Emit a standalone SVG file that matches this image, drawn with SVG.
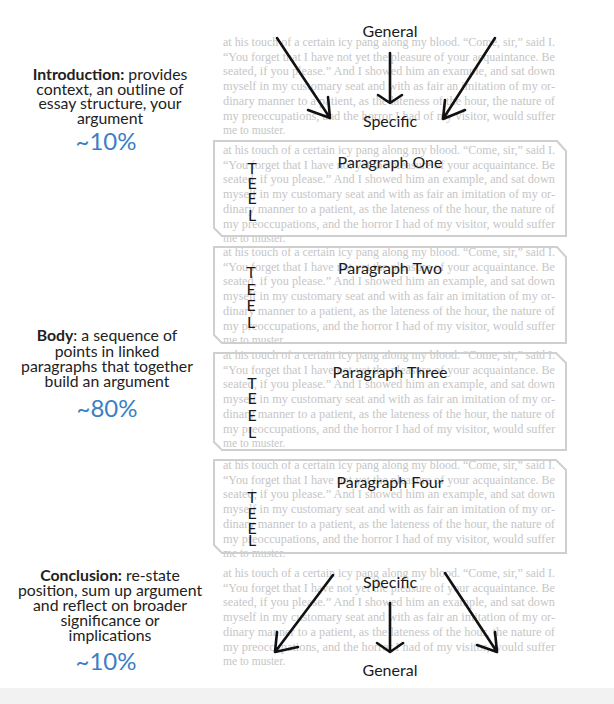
<svg xmlns="http://www.w3.org/2000/svg" xmlns:xlink="http://www.w3.org/1999/xlink" width="614" height="704" viewBox="0 0 614 704">
<style>
.bg{font-family:"Liberation Serif","Times New Roman",serif;font-size:11.5px;fill:#c6c6c6}
.lbl{font-family:Lato,"Open Sans",sans-serif;font-size:16px;fill:#1a1a1a;text-anchor:middle}
.teel{font-family:Lato,"Open Sans",sans-serif;font-size:16px;fill:#1a1a1a;text-anchor:middle}
.side{font-family:Lato,"Open Sans",sans-serif;font-size:15.8px;fill:#222;text-anchor:middle}
.pct{font-family:Lato,"Open Sans",sans-serif;font-size:24px;fill:#3b7fc4;text-anchor:middle}
.box{fill:none;stroke:#cfcfcf;stroke-width:2}
.arr{fill:none;stroke:#111;stroke-width:2.6;stroke-linecap:round;stroke-linejoin:round}
</style>
<defs>
<g id="para" class="bg">
<text x="223" y="0" textLength="332" lengthAdjust="spacingAndGlyphs">at his touch of a certain icy pang along my blood. “Come, sir,” said I.</text>
<text x="223" y="14.7" textLength="332" lengthAdjust="spacingAndGlyphs">“You forget that I have not yet the pleasure of your acquaintance. Be</text>
<text x="223" y="29.4" textLength="332" lengthAdjust="spacingAndGlyphs">seated, if you please.” And I showed him an example, and sat down</text>
<text x="223" y="44.1" textLength="332" lengthAdjust="spacingAndGlyphs">myself in my customary seat and with as fair an imitation of my or-</text>
<text x="223" y="58.8" textLength="332" lengthAdjust="spacingAndGlyphs">dinary manner to a patient, as the lateness of the hour, the nature of</text>
<text x="223" y="73.5" textLength="332" lengthAdjust="spacingAndGlyphs">my preoccupations, and the horror I had of my visitor, would suffer</text>
<text x="223" y="88.2">me to muster.</text>
</g>
</defs>
<rect x="0" y="0" width="614" height="704" fill="#ffffff"/>
<rect x="0" y="688" width="614" height="16" fill="#f2f2f2"/>

<g id="intro">
<use xlink:href="#para" y="46"/>
<text class="lbl" x="390" y="37">General</text>
<text class="lbl" x="390" y="127">Specific</text>
<text class="side" x="110" y="80"><tspan font-weight="bold">Introduction:</tspan> provides</text>
<text class="side" x="110" y="94.5">context, an outline of</text>
<text class="side" x="110" y="109">essay structure, your</text>
<text class="side" x="110" y="123.5">argument</text>
<text class="pct" x="106" y="150">~10%</text>
</g>

<g id="p1">
<use xlink:href="#para" y="154"/>
<path class="box" d="M214,141 H557 L566,151 V236 H222 L214,228 Z"/>
<text class="lbl" x="390" y="167.5">Paragraph One</text>
<text class="teel" x="252" y="174">T</text>
<text class="teel" x="252" y="189">E</text>
<text class="teel" x="252" y="204">E</text>
<text class="teel" x="252" y="220.5">L</text>
</g>

<g id="p2">
<use xlink:href="#para" y="256"/>
<path class="box" d="M214,247 H557 L566,257 V343 H222 L214,335 Z"/>
<text class="lbl" x="390" y="273.5">Paragraph Two</text>
<text class="teel" x="251" y="277.5">T</text>
<text class="teel" x="251" y="294.5">E</text>
<text class="teel" x="251" y="310.5">E</text>
<text class="teel" x="251" y="327.5">L</text>
</g>

<g id="p3">
<use xlink:href="#para" y="359"/>
<path class="box" d="M214,353 H556 L566,363 V450 H222 L214,442 Z"/>
<text class="lbl" x="390" y="377.5">Paragraph Three</text>
<text class="teel" x="252" y="388.5">T</text>
<text class="teel" x="252" y="404">E</text>
<text class="teel" x="252" y="420.5">E</text>
<text class="teel" x="252" y="437.5">L</text>
</g>

<g id="p4">
<use xlink:href="#para" y="469"/>
<path class="box" d="M214,460 H556 L566,470 V553 H222 L214,545 Z"/>
<text class="lbl" x="390" y="487.5">Paragraph Four</text>
<text class="teel" x="252" y="503">T</text>
<text class="teel" x="252" y="519">E</text>
<text class="teel" x="252" y="533.5">E</text>
<text class="teel" x="252" y="546">L</text>
</g>

<g id="conclusion">
<use xlink:href="#para" y="577"/>
<text class="lbl" x="390" y="587.5">Specific</text>
<text class="lbl" x="390" y="675.5">General</text>
<text class="side" x="110" y="580.5"><tspan font-weight="bold">Conclusion:</tspan> re-state</text>
<text class="side" x="110" y="595.5">position, sum up argument</text>
<text class="side" x="110" y="610.5">and reflect on broader</text>
<text class="side" x="110" y="625.5">significance or</text>
<text class="side" x="110" y="640.5">implications</text>
<text class="pct" x="106" y="670">~10%</text>
</g>

<g id="body">
<text class="side" x="107" y="340.5"><tspan font-weight="bold">Body</tspan>: a sequence of</text>
<text class="side" x="107" y="356.5">points in linked</text>
<text class="side" x="107" y="371.5">paragraphs that together</text>
<text class="side" x="107" y="387">build an argument</text>
<text class="pct" x="107" y="416.5">~80%</text>
</g>

<g id="connectors">
<path class="arr" d="M277,38 L330,118 M308,110 L330,118 L328,97"/>
<path class="arr" d="M390,53 L390,103 M378,95 L390,103 L402,95"/>
<path class="arr" d="M495,38 L443,119 M445,100 L443,119 L465,110"/>
<path class="arr" d="M333,575 L275,652 M277,632 L275,652 L298,647"/>
<path class="arr" d="M390,603 L390,652 M377,643 L390,652 L403,643"/>
<path class="arr" d="M445,573 L497,652 M477,645 L497,652 L495,632"/>
</g>
</svg>
